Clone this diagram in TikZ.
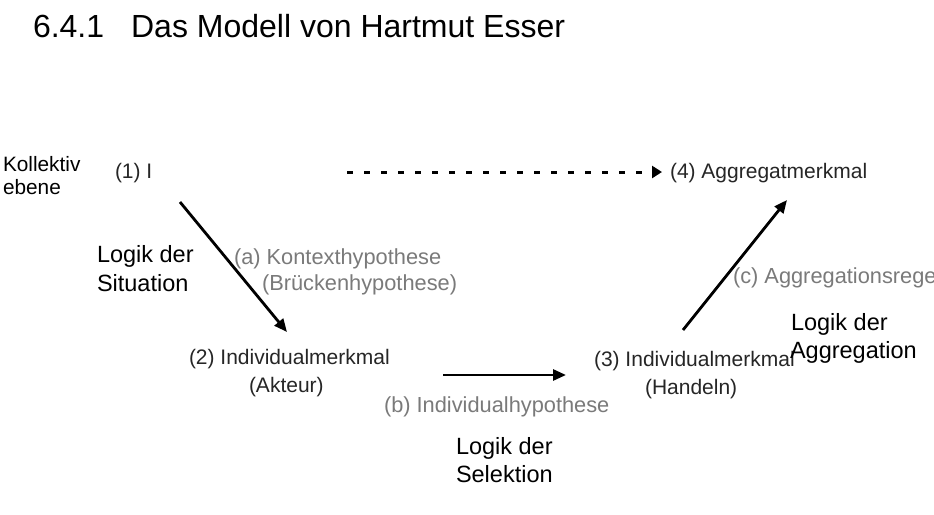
\documentclass[tikz,border=0pt]{standalone}
\usepackage{fontspec}
\setmainfont{Liberation Sans}
\usetikzlibrary{arrows.meta}
\begin{document}
\begin{tikzpicture}[x=1pt,y=-1pt,
  every node/.style={inner sep=0pt, outer sep=0pt, anchor=base west},
  titletext/.style={font=\fontsize{32}{38}\selectfont, text=black},
  leveltext/.style={font=\fontsize{20.8}{24}\selectfont, text=black},
  logictext/.style={font=\fontsize{23.5}{28}\selectfont, text=black},
  statetext/.style={font=\fontsize{21}{24}\selectfont, text=black!85},
  hypotext/.style={font=\fontsize{21.8}{25}\selectfont, text=black!52},
  conn/.style={draw=black, line width=2.8pt, -{Triangle[length=13pt,width=11pt]}},
  dotconn/.style={draw=black, line width=3pt, dash pattern=on 6pt off 11pt, -{Triangle[length=10pt,width=12pt]}},
]
\useasboundingbox (0,0) rectangle (934,514);
\clip (0,0) rectangle (934,514);
\fill[white] (0,0) rectangle (934,514);

% title
\node[titletext] (title) at (33,37) {6.4.1\hspace{27pt}Das Modell von Hartmut Esser};

% level label
\node[leveltext] (koll1) at (3,171) {Kollektiv};
\node[leveltext] (koll2) at (3,194.5) {ebene};

% states
\node[statetext] (s1) at (115,178) {(1) I};
\node[statetext] (s4) at (670,178) {(4) Aggregatmerkmal};
\node[statetext] (s2a) at (189,364) {(2) Individualmerkmal};
\node[statetext] (s2b) at (249,392) {(Akteur)};
\node[statetext] (s3a) at (594,366) {(3) Individualmerkmal};
\node[statetext] (s3b) at (645,394) {(Handeln)};

% hypotheses
\node[hypotext] (ha1) at (234,264) {(a) Kontexthypothese};
\node[hypotext] (ha2) at (262,290) {(Brückenhypothese)};
\node[hypotext] (hb) at (384,412) {(b) Individualhypothese};
\node[hypotext] (hc) at (733,283) {(c) Aggregationsregel};

% logics
\node[logictext] (ls1) at (97,262) {Logik der};
\node[logictext] (ls2) at (97,291) {Situation};
\node[logictext] (lsel1) at (456,454) {Logik der};
\node[logictext] (lsel2) at (456,482) {Selektion};
\node[logictext] (lag1) at (791,330) {Logik der};
\node[logictext] (lag2) at (790,358) {Aggregation};

% connector ends
\coordinate (d0) at (347,172);
\coordinate (d1) at (662,172);
\coordinate (a0) at (180,202);
\coordinate (a1) at (287,332);
\coordinate (b0) at (443,375);
\coordinate (b1) at (566,375);
\coordinate (c0) at (683,330);
\coordinate (c1) at (787,200);

\draw[dotconn] (d0) -- (d1);
\draw[conn] (a0) -- (a1);
\draw[conn] (b0) -- (b1);
\draw[conn] (c0) -- (c1);
\end{tikzpicture}
\end{document}
